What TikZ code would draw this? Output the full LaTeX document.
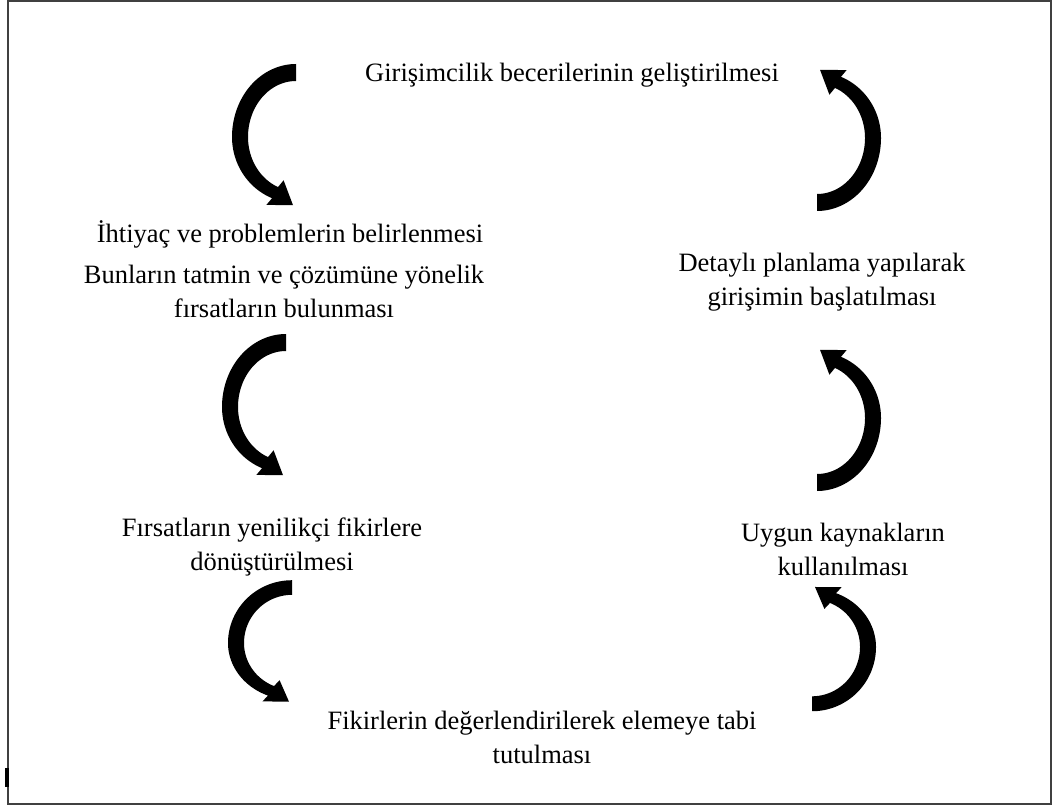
\documentclass[tikz,border=0pt]{standalone}
\usepackage{fontspec}
\setmainfont{Liberation Serif}
\begin{document}
\begin{tikzpicture}[x=1pt,y=-1pt,
  lbl/.style={font=\fontsize{26.5}{34}\selectfont, inner sep=0pt, align=center, anchor=base},
  curvedarrow/.pic={\fill[black]
     plot[domain=270:180,samples=40,variable=\t] ({64*cos(\t)},{73*sin(\t)})
  -- plot[domain=180:112,samples=30,variable=\t] ({64*cos(\t)},{66*sin(\t)})
  -- (-29.6,67.9) -- (-3,68.2) -- (-12.4,43.3)
  -- plot[domain=112:180,samples=30,variable=\t] ({48*cos(\t)},{54*sin(\t)})
  -- plot[domain=180:270,samples=40,variable=\t] ({48*cos(\t)},{56*sin(\t)})
  -- cycle;}
]
\useasboundingbox (0,0) rectangle (1056,810);
\draw[line width=2pt, draw=black!75] (7.5,1.5) rectangle (1051,804);
\fill[black] (5,768) rectangle (8.5,787);

\node[lbl] (t1) at (572,82) {Girişimcilik becerilerinin geliştirilmesi};
\node[lbl] (t2) at (290,243) {İhtiyaç ve problemlerin belirlenmesi};
\node[lbl] (t3) at (284,317) {Bunların tatmin ve çözümüne yönelik\\fırsatların bulunması};
\node[lbl] (t4) at (822,305) {Detaylı planlama yapılarak\\girişimin başlatılması};
\node[lbl] (t5) at (272,570) {Fırsatların yenilikçi fikirlere\\dönüştürülmesi};
\node[lbl] (t6) at (843,575) {Uygun kaynakların\\kullanılması};
\node[lbl] (t7) at (542,763) {Fikirlerin değerlendirilerek elemeye tabi\\tutulması};

\pic at (296,137) {curvedarrow};
\pic at (286,407) {curvedarrow};
\pic[yscale=0.86] at (292,643) {curvedarrow};
\pic[xscale=-1,yscale=-1] at (817,138) {curvedarrow};
\pic[xscale=-1,yscale=-1] at (817,418) {curvedarrow};
\pic[xscale=-1,yscale=-0.88] at (812,647) {curvedarrow};
\end{tikzpicture}
\end{document}
